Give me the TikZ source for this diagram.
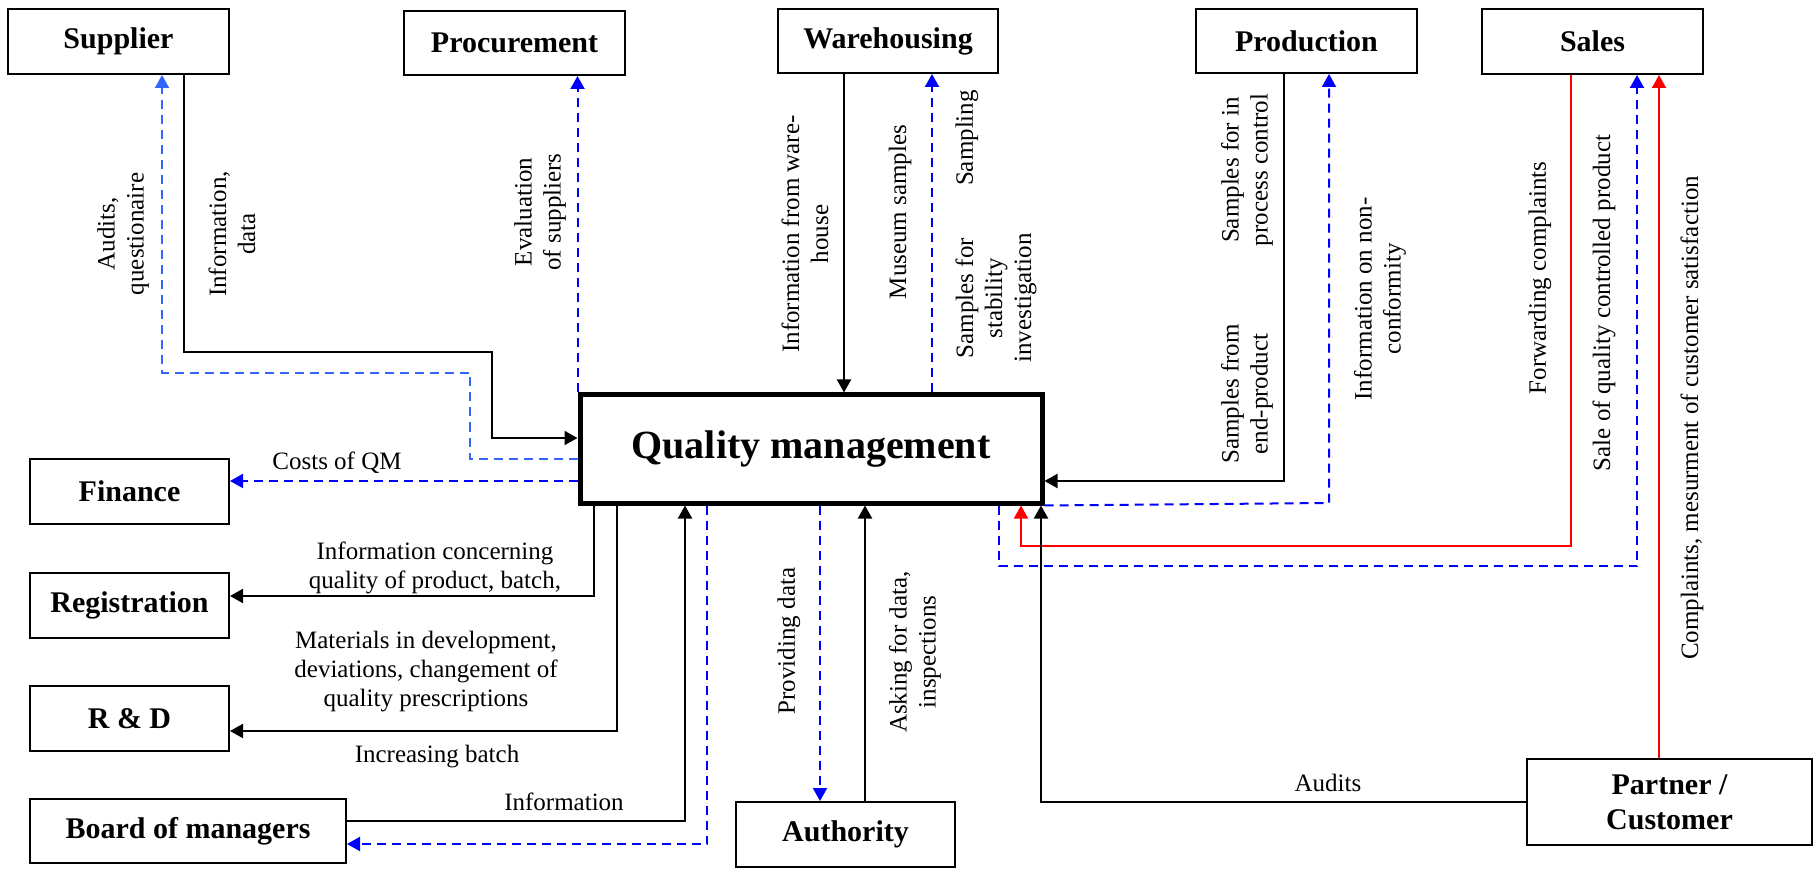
\documentclass[tikz,border=0pt]{standalone}
\usepackage{fontspec}
\setmainfont{Liberation Serif}
\usetikzlibrary{arrows.meta}
\definecolor{lightblue}{RGB}{51,102,255}
\begin{document}
\begin{tikzpicture}[x=1pt,y=-1pt,
		unit/.style={draw,line width=2pt,inner sep=0pt,font=\fontsize{30}{35}\selectfont\bfseries},
		lbl/.style={inner sep=0pt,align=center,font=\fontsize{25}{29}\selectfont},
		arr/.style={line width=2pt,-{Triangle[length=13pt,width=14pt]}},
		darr/.style={blue,line width=2pt,dash pattern=on 9pt off 6pt,-{Triangle[length=13pt,width=14pt]}},
		rarr/.style={red,line width=2pt,-{Triangle[length=13pt,width=14pt]}}]
		\useasboundingbox (0,0) rectangle (1818,874);
		\node[unit,minimum width=221pt,minimum height=65pt] (sup) at (118.5,41.5) {Supplier};
		\node[unit,minimum width=221pt,minimum height=64pt] (proc) at (514.5,43) {Procurement};
		\node[unit,minimum width=220pt,minimum height=64pt] (ware) at (888,41) {Warehousing};
		\node[unit,minimum width=221pt,minimum height=64pt] (prod) at (1306.5,41) {Production};
		\node[unit,minimum width=221pt,minimum height=65pt] (sales) at (1592.5,41.5) {Sales};
		\node[draw,line width=5pt,minimum width=462pt,minimum height=108pt,font=\fontsize{40}{44}\selectfont\bfseries] (qm) at (811,449) {Quality management};
		\node[unit,minimum width=199pt,minimum height=65pt] (fin) at (129.5,491.5) {Finance};
		\node[unit,minimum width=199pt,minimum height=65pt] (reg) at (129.5,605.5) {Registration};
		\node[unit,minimum width=199pt,minimum height=65pt] (rd) at (129.5,718.5) {R \& D};
		\node[unit,minimum width=316pt,minimum height=64pt] (board) at (188,831) {Board of managers};
		\node[unit,minimum width=219pt,minimum height=65pt] (auth) at (845.5,834.5) {Authority};
		\node[unit,align=center,minimum width=285pt,minimum height=86pt] (cust) at (1669.5,802) {Partner /\\Customer};
		\coordinate (s1) at (184,352);
		\coordinate (s2) at (492,438);
		\coordinate (a1) at (470,459);
		\coordinate (a2) at (162,373);
		\coordinate (f1) at (400,481);
		\coordinate (w1) at (844,200);
		\coordinate (w2) at (932,200);
		\coordinate (p1) at (1284,481);
		\coordinate (p2) at (1329,503);
		\coordinate (r1) at (1571,546);
		\coordinate (r2) at (1021,546);
		\coordinate (b1) at (999,566);
		\coordinate (b2) at (1637,566);
		\coordinate (c1) at (1659,500);
		\coordinate (c2) at (1041,802);
		\coordinate (g1) at (594,596);
		\coordinate (g2) at (617,731);
		\coordinate (g3) at (685,821);
		\coordinate (g4) at (707,844);
		\coordinate (h1) at (820,700);
		\coordinate (h2) at (865,700);
		\draw[arr] (sup.south -| s1) -- (s1) -| (s2) -- (qm.west |- s2);
		\draw[darr,lightblue] (qm.west |- a1) -- (a1) |- (a2) -- (sup.south -| a2);
		\draw[darr] (qm.north west) -- (proc.south -| qm.north west);
		\draw[darr] (qm.west |- f1) -- (fin.east |- f1);
		\draw[arr] (ware.south -| w1) -- (qm.north -| w1);
		\draw[darr] (qm.north -| w2) -- (ware.south -| w2);
		\draw[arr] (prod.south -| p1) -- (p1) -- (qm.east |- p1);
		\draw[darr] (qm.south east) -- (p2) -- (prod.south -| p2);
		\draw[rarr] (sales.south -| r1) -- (r1) -- (r2) -- (qm.south -| r2);
		\draw[darr] (qm.south -| b1) -- (b1) -- (b2) -- (sales.south -| b2);
		\draw[rarr] (cust.north -| c1) -- (sales.south -| c1);
		\draw[arr] (cust.west |- c2) -- (c2) -- (qm.south -| c2);
		\draw[arr] (qm.south -| g1) -- (g1) -- (reg.east |- g1);
		\draw[arr] (qm.south -| g2) -- (g2) -- (rd.east |- g2);
		\draw[arr] (board.east |- g3) -- (g3) -- (qm.south -| g3);
		\draw[darr] (qm.south -| g4) -- (g4) -- (board.east |- g4);
		\draw[darr] (qm.south -| h1) -- (auth.north -| h1);
		\draw[arr] (auth.north -| h2) -- (qm.south -| h2);
		\node[lbl,rotate=90] (lauditsq) at (123,234) {Audits,\\questionaire};
		\node[lbl,rotate=90] (linfodata) at (232,234) {Information,\\data};
		\node[lbl,rotate=90] (leval) at (540,212) {Evaluation\\of suppliers};
		\node[lbl] (lcosts) at (337,463) {Costs of QM};
		\node[lbl,rotate=90] (linfoware) at (805,234) {Information from ware-\\house};
		\node[lbl,rotate=90] (lmuseum) at (900,212) {Museum samples};
		\node[lbl,rotate=90] (lsampling) at (967,138) {Sampling};
		\node[lbl,rotate=90] (lstab) at (996,298) {Samples for\\stability\\investigation};
		\node[lbl,rotate=90] (linproc) at (1247,170) {Samples for in\\process control};
		\node[lbl,rotate=90] (lendprod) at (1247,394) {Samples from\\end-product};
		\node[lbl,rotate=90] (lnonconf) at (1380,299) {Information on non-\\conformity};
		\node[lbl,rotate=90] (lfwd) at (1540,278) {Forwarding complaints};
		\node[lbl,rotate=90] (lsale) at (1604,303) {Sale of quality controlled product};
		\node[lbl,rotate=90] (lcompl) at (1692,418) {Complaints, mesurment of customer satisfaction};
		\node[lbl] (linfoconc) at (435,567.5) {Information concerning\\quality of product, batch,};
		\node[lbl] (lmat) at (426,672) {Materials in development,\\deviations, changement of\\quality prescriptions};
		\node[lbl] (lincr) at (437,757) {Increasing batch};
		\node[lbl] (linfo) at (564,802) {Information};
		\node[lbl,rotate=90] (lprov) at (789,641) {Providing data};
		\node[lbl,rotate=90] (lask) at (915,652) {Asking for data,\\inspections};
		\node[lbl] (laudits) at (1328,783) {Audits};
	\end{tikzpicture}
\end{document}
